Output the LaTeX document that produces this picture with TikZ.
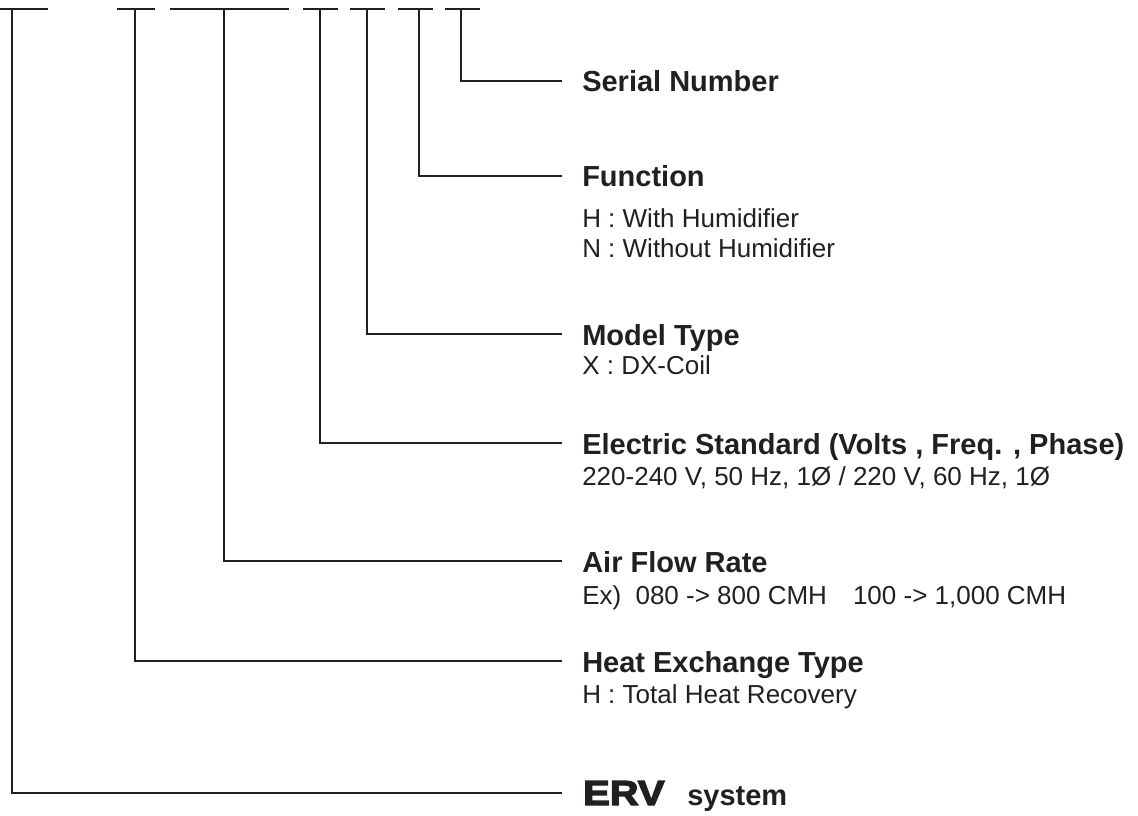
\documentclass[tikz,border=0pt]{standalone}
\usepackage{fontspec}
\setmainfont{Liberation Sans}
\newfontface\ervfont{Liberation Sans Bold}[FakeStretch=1.15,FakeBold=4]
\definecolor{ink}{RGB}{35,31,32}
\begin{document}
\begin{tikzpicture}[x=0.75pt,y=-0.75pt,
  wire/.style={draw=ink,line width=1.35pt,line join=miter},
  title/.style={anchor=base west,inner sep=0pt,text=ink,font=\fontsize{21.75}{26}\selectfont\bfseries},
  sub/.style={anchor=base west,inner sep=0pt,text=ink,font=\fontsize{19.5}{24}\selectfont},
  ervtitle/.style={anchor=base west,inner sep=0pt,text=ink,font=\fontsize{26}{30}\selectfont\ervfont},
  systitle/.style={anchor=base west,inner sep=0pt,text=ink,font=\fontsize{21.75}{26}\selectfont\bfseries}]
\useasboundingbox (0,0) rectangle (1138,816);

% top bars (code positions)
\coordinate (b7l) at (0,9);   \coordinate (b7r) at (48,9);  \coordinate (v7) at (12,9);
\coordinate (b6l) at (117,9); \coordinate (b6r) at (155,9); \coordinate (v6) at (135,9);
\coordinate (b5l) at (170,9); \coordinate (b5r) at (289,9); \coordinate (v5) at (224,9);
\coordinate (b4l) at (303,9); \coordinate (b4r) at (338,9); \coordinate (v4) at (320,9);
\coordinate (b3l) at (350,9); \coordinate (b3r) at (385,9); \coordinate (v3) at (367,9);
\coordinate (b2l) at (398,9); \coordinate (b2r) at (433,9); \coordinate (v2) at (419,9);
\coordinate (b1l) at (445,9); \coordinate (b1r) at (480,9); \coordinate (v1) at (461,9);

% line ends
\coordinate (e1) at (562,81);
\coordinate (e2) at (562,176);
\coordinate (e3) at (562,334);
\coordinate (e4) at (562,443);
\coordinate (e5) at (562,561);
\coordinate (e6) at (562,661);
\coordinate (e7) at (562,793);

% labels
\node[title] (t1) at (582,92) {Serial Number};
\node[title] (t2) at (582,187) {Function};
\node[sub] (s2a) at (582,228) {H : With Humidifier};
\node[sub] (s2b) at (582,258) {N : Without Humidifier};
\node[title] (t3) at (582,345) {Model Type};
\node[sub] (s3) at (582,374) {X : DX-Coil};
\node[title] (t4) at (582,454) {Electric Standard (Volts , Freq. , Phase)};
\node[sub] (s4) at (582,485) {220-240 V, 50 Hz, 1Ø / 220 V, 60 Hz, 1Ø};
\node[title] (t5) at (582,572) {Air Flow Rate};
\node[sub] (s5) at (582,604) {Ex)\hspace{0.55em}080 -> 800 CMH\hspace{1.0em}100 -> 1,000 CMH};
\node[title] (t6) at (582,672) {Heat Exchange Type};
\node[sub] (s6) at (582,703) {H : Total Heat Recovery};
\node[ervtitle] (t7) at (583,805) {ERV};
\node[systitle] (t7b) at (687,805) {system};

% connectors
\foreach \i in {1,...,7}{
  \draw[wire] (b\i l) -- (b\i r);
  \draw[wire] (v\i) |- (e\i);
}
\end{tikzpicture}
\end{document}
